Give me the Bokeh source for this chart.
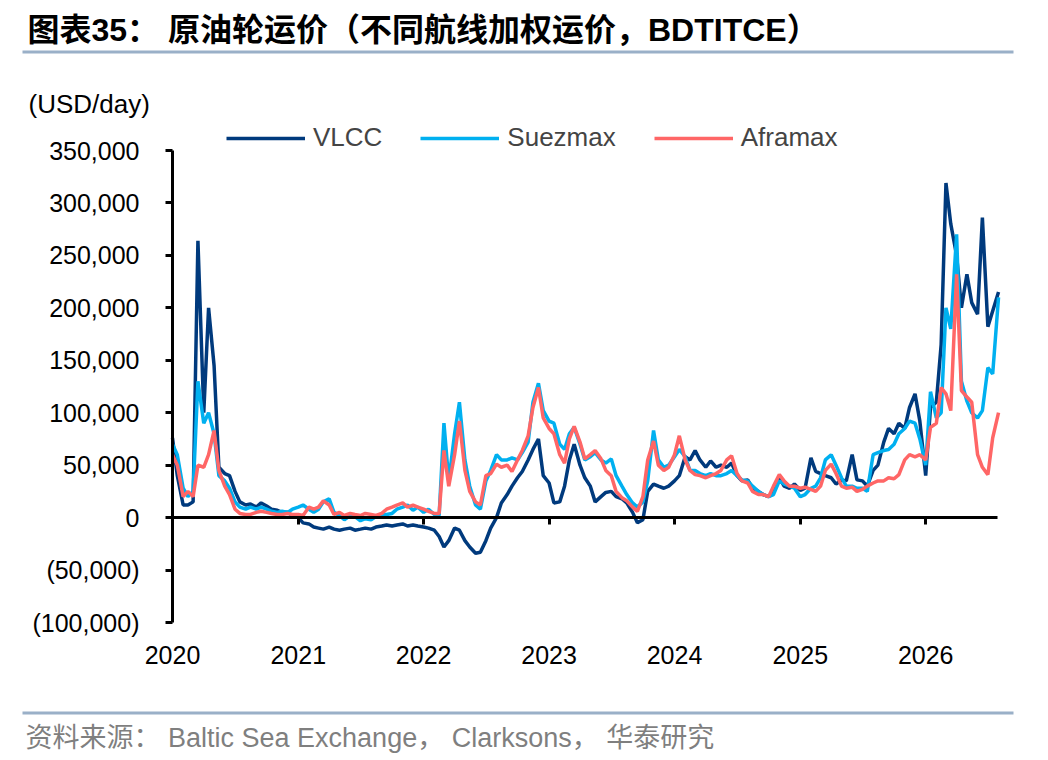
import pandas as pd
from bokeh.plotting import figure
from bokeh.models import (ColumnDataSource, Range1d, FixedTicker, NumeralTickFormatter,
                          DatetimeTickFormatter, DatetimeAxis, LinearAxis, CustomJSTickFormatter,
                          Label, BoxAnnotation, Legend, LegendItem)
from bokeh.embed import file_html
from bokeh.resources import INLINE

# BDTI TCE, USD/day in thousands, read off the chart on the 1st and 15th of each month
# from Jan 2020 to Aug 2026
vlcc = [76, 40, 12, 12, 15, 264, 100, 200, 145, 48, 42, 40, 25, 15, 12, 13, 10, 14, 11, 8,
        7, 5, 5, 2, 0, -5, -6, -9, -10, -11, -9, -11, -12, -11, -10, -12, -11, -10, -11, -9,
        -8, -7, -8, -7, -6, -8, -7, -8, -9, -10, -12, -18, -28, -22, -10, -12, -22, -28, -34, -33,
        -22, -10, 0, 14, 22, 30, 38, 44, 55, 65, 75, 40, 33, 14, 15, 30, 55, 70, 50, 38,
        30, 15, 20, 24, 25, 20, 18, 14, 5, -5, -2, 25, 32, 30, 28, 30, 35, 40, 58, 55,
        64, 55, 48, 54, 48, 50, 48, 52, 40, 35, 36, 28, 25, 22, 20, 25, 38, 30, 28, 32,
        26, 28, 57, 44, 42, 40, 38, 32, 36, 35, 60, 36, 35, 30, 45, 50, 72, 85, 80, 90,
        85, 105, 118, 92, 40, 105, 110, 165, 319, 280, 250, 200, 232, 205, 194, 286, 182, 197, 215]
suezmax = [70, 60, 28, 20, 25, 130, 90, 100, 80, 40, 35, 28, 15, 10, 8, 10, 8, 10, 8, 6,
           5, 6, 5, 8, 10, 12, 8, 5, 8, 15, 18, 5, 2, -2, 2, 1, -3, -1, -2, 1,
           3, 3, 4, 8, 10, 12, 7, 10, 5, 8, 3, 2, 90, 35, 80, 110, 55, 30, 12, 8,
           35, 45, 60, 55, 55, 57, 55, 62, 72, 110, 128, 102, 92, 90, 70, 65, 80, 86, 70, 55,
           58, 62, 55, 52, 56, 40, 30, 22, 14, 10, 15, 35, 83, 55, 48, 50, 58, 65, 58, 45,
           45, 42, 40, 42, 40, 40, 42, 45, 40, 36, 35, 30, 25, 22, 20, 22, 35, 32, 30, 28,
           20, 22, 28, 30, 38, 55, 60, 50, 38, 30, 30, 28, 28, 25, 60, 62, 64, 65, 70, 80,
           85, 92, 90, 75, 50, 120, 95, 100, 200, 180, 270, 130, 111, 100, 95, 102, 143, 137, 210]
aframax = [60, 50, 20, 25, 20, 50, 48, 60, 83, 45, 30, 22, 8, 4, 3, 3, 5, 6, 5, 4,
           3, 3, 4, 3, 3, 2, 10, 8, 10, 16, 12, 3, 5, 2, 4, 3, 2, 4, 3, 2,
           4, 8, 10, 12, 14, 10, 12, 10, 8, 6, 4, 4, 64, 30, 60, 92, 45, 25, 15, 12,
           40, 42, 51, 48, 50, 44, 55, 64, 78, 105, 124, 95, 85, 80, 60, 52, 75, 87, 72, 56,
           60, 64, 56, 45, 40, 25, 19, 16, 10, 6, 20, 55, 73, 50, 45, 48, 60, 78, 55, 45,
           41, 40, 38, 40, 42, 45, 55, 59, 42, 35, 33, 25, 22, 22, 20, 30, 41, 35, 30, 30,
           28, 29, 27, 25, 30, 45, 51, 42, 30, 28, 29, 25, 27, 30, 33, 35, 35, 38, 37, 41,
           55, 60, 58, 60, 55, 86, 90, 124, 118, 102, 232, 121, 115, 110, 60, 48, 41, 76, 100]

years = [2020, 2021, 2022, 2023, 2024, 2025, 2026]
y_ticks = [-100000, -50000, 0, 50000, 100000, 150000, 200000, 250000, 300000, 350000]

dates = pd.date_range("2020-01-01", periods=len(vlcc), freq="SMS")
source = ColumnDataSource(data=dict(
    date=dates,
    vlcc=[v * 1000 for v in vlcc],
    suezmax=[v * 1000 for v in suezmax],
    aframax=[v * 1000 for v in aframax],
))
year_ms = [pd.Timestamp(f"{y}-01-01").timestamp() * 1000 for y in years]

FONT = "Liberation Sans"
MIXED = "Liberation Sans, Noto Sans CJK SC"
RULE = "#9AB0C8"
W, H = 1040, 756

# the frame fills the whole canvas so that title, legend and source line are not clipped;
# the axes are pinned to where the chart area sits (x 172..997, y 150..622 in pixels)
t0 = pd.Timestamp("2020-01-01").timestamp() * 1000
t1 = pd.Timestamp("2026-07-29").timestamp() * 1000
y0, y1 = -100000, 350000
ms_px = (t1 - t0) / (997 - 172)
val_px = (y1 - y0) / (622 - 150)

p = figure(width=W, height=H, x_axis_type="datetime",
           x_range=Range1d(t0 - 172 * ms_px, t1 + (W - 997) * ms_px),
           y_range=Range1d(y0 - (H - 622) * val_px, y1 + 150 * val_px),
           x_axis_location=None, y_axis_location=None, min_border=0,
           output_backend="svg", toolbar_location=None)
p.outline_line_color = None
p.xgrid.visible = False
p.ygrid.visible = False

ya = LinearAxis(fixed_location=t0, bounds=(y0, y1), ticker=FixedTicker(ticks=y_ticks),
                formatter=NumeralTickFormatter(format="(0,0)"),
                axis_line_width=3, axis_line_color="black",
                major_tick_in=0, major_tick_out=7, major_tick_line_width=3,
                minor_tick_line_color=None, major_label_standoff=26,
                major_label_text_font=FONT, major_label_text_font_size="25px",
                major_label_text_color="black")
p.add_layout(ya, "left")

zero_axis = DatetimeAxis(fixed_location=0, bounds=(t0, t1), ticker=FixedTicker(ticks=year_ms),
                         formatter=CustomJSTickFormatter(code="return ''"),
                         axis_line_width=3, axis_line_color="black",
                         major_tick_in=0, major_tick_out=7, major_tick_line_width=3,
                         minor_tick_line_color=None, major_label_standoff=0)
p.add_layout(zero_axis, "below")

year_axis = DatetimeAxis(fixed_location=y0, ticker=FixedTicker(ticks=year_ms),
                         formatter=DatetimeTickFormatter(years="%Y", months="%Y", days="%Y",
                                                         hours="%Y", minutes="%Y",
                                                         seconds="%Y", milliseconds="%Y"),
                         axis_line_color=None, major_tick_line_color=None,
                         minor_tick_line_color=None, major_label_standoff=17,
                         major_label_text_font=FONT, major_label_text_font_size="25px",
                         major_label_text_color="black")
p.add_layout(year_axis, "below")

r_v = p.line("date", "vlcc", source=source, color="#003A7D", line_width=3.5)
r_s = p.line("date", "suezmax", source=source, color="#00B0F0", line_width=3.5)
r_a = p.line("date", "aframax", source=source, color="#FF6666", line_width=3.5)

legend = Legend(items=[LegendItem(label="VLCC", renderers=[r_v]),
                       LegendItem(label="Suezmax", renderers=[r_s]),
                       LegendItem(label="Aframax", renderers=[r_a])],
                orientation="horizontal", location=(226, H - 153),
                glyph_width=79, glyph_height=28, label_height=28, label_standoff=8,
                spacing=38, padding=0, margin=0,
                label_text_font=FONT, label_text_font_size="26px",
                border_line_color=None, background_fill_alpha=0)
p.add_layout(legend)

# screen units: from the canvas' bottom-left corner, y upwards
p.add_layout(Label(x=27, y=H - 29, x_units="screen", y_units="screen",
                   text="图表35： 原油轮运价（不同航线加权运价，BDTITCE）",
                   text_font=MIXED, text_font_size="32px", text_font_style="bold",
                   text_color="black", text_baseline="middle"))
p.add_layout(Label(x=28, y=H - 103, x_units="screen", y_units="screen",
                   text="(USD/day)", text_font=FONT, text_font_size="26px",
                   text_color="black", text_baseline="middle"))
p.add_layout(Label(x=25, y=H - 737, x_units="screen", y_units="screen",
                   text="资料来源： Baltic Sea Exchange， Clarksons， 华泰研究",
                   text_font=MIXED, text_font_size="27px",
                   text_color="#7F7F7F", text_baseline="middle"))
for top in (50, 711):
    p.add_layout(BoxAnnotation(left=22, right=1013, top=H - top, bottom=H - top - 3,
                               left_units="screen", right_units="screen",
                               top_units="screen", bottom_units="screen",
                               fill_color=RULE, fill_alpha=1, line_color=None))

open("out.html", "w").write(file_html(p, INLINE))
